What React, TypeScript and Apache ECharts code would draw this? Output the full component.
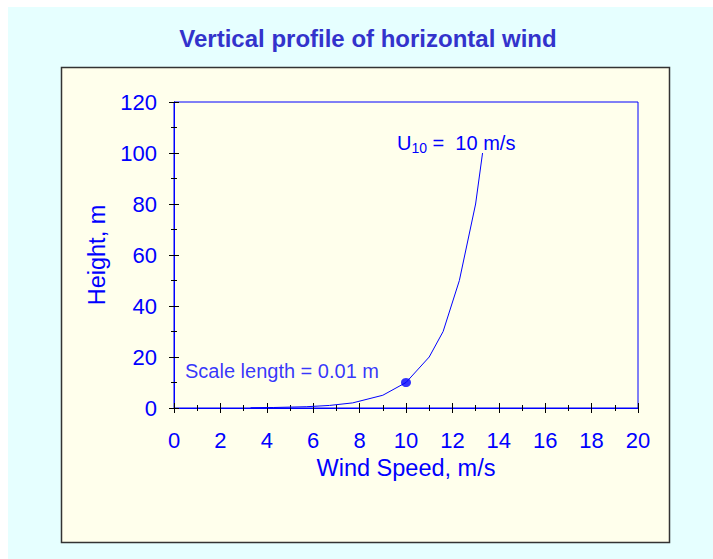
import React, { useEffect, useRef } from "react";
import * as echarts from "echarts";

const windSpeed = [3.3, 4.3, 5.7, 6.7, 7.7, 9.0, 10.0, 11.0, 11.6, 12.3, 13.0, 13.3];
const heights = [0.1, 0.2, 0.5, 1, 2, 5, 10, 20, 30, 50, 80, 100];
const markedPoint = [10, 10];
const titleText = "Vertical profile of horizontal wind";
const xName = "Wind Speed, m/s";
const yName = "Height, m";
const scaleLabel = "Scale length = 0.01 m";

const FONT = "'Liberation Sans', Arial, sans-serif";
const BLUE = "#0000FF";

export default function App() {
  const ref = useRef<HTMLDivElement>(null);
  useEffect(() => {
    if (!ref.current) return;
    const chart = echarts.init(ref.current, null, { renderer: "svg" });
    const data = windSpeed.map((u, i) => [u, heights[i]]);
    const common = {
      min: 0,
      axisLine: { show: true, lineStyle: { color: BLUE, width: 1 } },
      splitLine: { show: false },
    };
    const xBase = { ...common, type: "value", max: 20, interval: 2, position: "bottom" };
    const yBase = { ...common, type: "value", max: 120, interval: 20, position: "left" };
    chart.setOption({
      animation: false,
      backgroundColor: "#ffffff",
      textStyle: { fontFamily: FONT },
      title: {
        text: titleText,
        left: 363,
        top: 21,
        textAlign: "center",
        textStyle: { color: "#3333CC", fontSize: 24, fontWeight: "bold", fontFamily: FONT },
      },
      graphic: [
        { type: "rect", z: -10, silent: true, shape: { x: 8, y: 7, width: 713, height: 559 }, style: { fill: "#E6FFFF" } },
        {
          type: "rect", z: -9, silent: true,
          shape: { x: 61.5, y: 67.5, width: 608, height: 475 },
          style: { fill: "#FFFFEC", stroke: "#333333", lineWidth: 1.5 },
        },
        {
          type: "text", z: 10,
          x: 397, y: 143,
          style: {
            text: "{u|U}{s|10}{e| =  10 m/s}",
            verticalAlign: "middle",
            rich: {
              u: { fontSize: 20, fill: BLUE, fontFamily: FONT },
              s: { fontSize: 14, fill: BLUE, fontFamily: FONT, padding: [10, 0, 0, 0] },
              e: { fontSize: 20, fill: BLUE, fontFamily: FONT },
            },
          },
        },
      ],
      grid: {
        left: 174, right: 75, top: 102, bottom: 151,
        show: true, borderColor: BLUE, borderWidth: 1, backgroundColor: "transparent",
      },
      xAxis: [
        {
          ...xBase,
          name: xName,
          nameLocation: "middle",
          nameGap: 45,
          nameTextStyle: { color: BLUE, fontSize: 23.5, fontFamily: FONT },
          axisLabel: { color: BLUE, fontSize: 22, margin: 21, fontFamily: FONT },
          axisTick: { show: true, inside: false, length: 5, lineStyle: { color: "#000" } },
          minorTick: { show: true, splitNumber: 2, length: 3, lineStyle: { color: "#000" } },
        },
        {
          ...xBase,
          axisLabel: { show: false },
          axisTick: { show: true, inside: true, length: 5, lineStyle: { color: "#000" } },
          minorTick: { show: true, splitNumber: 2, length: 3, lineStyle: { color: "#000" } },
        },
      ],
      yAxis: [
        {
          ...yBase,
          name: yName,
          nameLocation: "middle",
          nameGap: 57,
          nameTextStyle: { color: BLUE, fontSize: 23.5, fontFamily: FONT },
          axisLabel: { color: BLUE, fontSize: 22, margin: 17, fontFamily: FONT },
          axisTick: { show: true, inside: false, length: 5, lineStyle: { color: "#000" } },
          minorTick: { show: true, splitNumber: 2, length: 3, lineStyle: { color: "#000" } },
        },
        {
          ...yBase,
          axisLabel: { show: false },
          axisTick: { show: true, inside: true, length: 5, lineStyle: { color: "#000" } },
          minorTick: { show: true, splitNumber: 2, length: 3, lineStyle: { color: "#000" } },
        },
      ],
      series: [
        {
          type: "line",
          data,
          showSymbol: false,
          symbol: "none",
          lineStyle: { color: BLUE, width: 1 },
          z: 3,
        },
        {
          type: "scatter",
          data: [markedPoint],
          symbol: "circle",
          symbolSize: [10, 9],
          itemStyle: { color: BLUE },
          z: 4,
          label: {
            show: true,
            position: "left",
            distance: 22,
            offset: [0, -12],
            formatter: scaleLabel,
            color: BLUE,
            fontSize: 20,
            fontFamily: FONT,
          },
        },
      ],
    });
    return () => chart.dispose();
  }, []);
  return (
    <div
      ref={ref}
      style={{ position: "fixed", left: 0, top: 0, width: 713, height: 559 }}
    />
  );
}
